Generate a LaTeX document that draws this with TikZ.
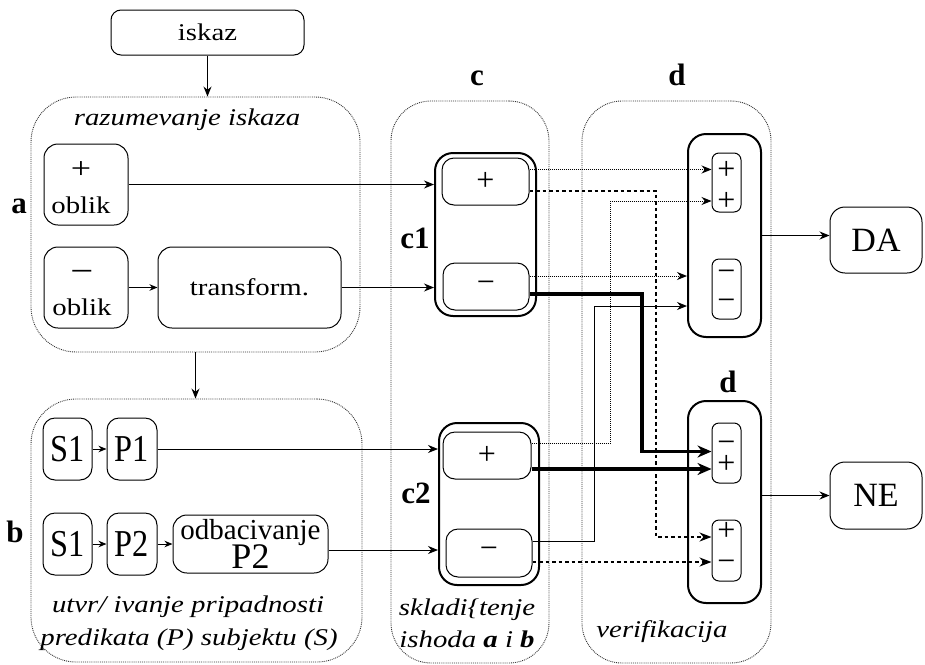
\documentclass[tikz,border=0pt]{standalone}
\usepackage{fontspec}
\setmainfont{Liberation Serif}
\newfontfamily\wf{Liberation Serif}[FakeStretch=1.2]
\newfontfamily\nf{Liberation Serif}[FakeStretch=0.85]
\usetikzlibrary{arrows.meta,calc}
\newcommand\myfs[1]{\fontsize{#1}{#1}\selectfont}
\begin{document}
\begin{tikzpicture}[x=1pt,y=-1pt,
  ob/.style={draw=black!80, line width=0.9pt, densely dotted, rounded corners=45pt, inner sep=0pt},
  bx/.style={draw=black, line width=1pt, rounded corners=14pt, inner sep=0pt},
  tk/.style={draw=black, line width=2pt, rounded corners=18pt, inner sep=0pt},
  sg/.style={font=\myfs{32}, inner sep=0pt, align=center},
  txt/.style={inner sep=0pt, anchor=base},
  ttl/.style={txt, font=\wf\itshape\myfs{24}},
  lbl/.style={font=\bfseries\myfs{31}, inner sep=0pt, anchor=base},
  arr/.style={-{Stealth[length=10pt,width=8pt]}, line width=1pt},
  sarr/.style={-{Stealth[length=8pt,width=6.5pt]}, line width=1pt},
  garr/.style={arr, densely dotted},
  tarr/.style={-{Stealth[length=14pt,width=12pt]}, line width=3.5pt},
  darr/.style={-{Stealth[length=12pt,width=9pt]}, line width=1.8pt, dash pattern=on 3.5pt off 3pt}
]
\useasboundingbox (0,0) rectangle (925,664);

% group boxes
\node[ob, minimum width=329pt, minimum height=255pt] (boxA) at (195.5,224.5) {};
\node[ob, minimum width=331pt, minimum height=263pt] (boxB) at (196.5,530.5) {};
\node[ob, rounded corners=40pt, minimum width=158pt, minimum height=562pt] (boxC) at (470,382) {};
\node[ob, rounded corners=40pt, minimum width=189pt, minimum height=562pt] (boxD) at (676.5,382) {};

% group titles
\node[ttl] (tA) at (187,125) {razumevanje iskaza};
\node[ttl] (tB1) at (188,612) {utvr/ ivanje pripadnosti};
\node[ttl] (tB2) at (189,645) {predikata (P) subjektu (S)};
\node[ttl] (tC1) at (467,615) {skladi\{tenje};
\node[ttl] (tC2) at (467,647) {ishoda \textbf{a} i \textbf{b}};
\node[ttl] (tD) at (662,637) {verifikacija};

% labels
\node[lbl] (la) at (19,213) {a};
\node[lbl] (lb) at (15,542) {b};
\node[lbl] (lc) at (477,85) {c};
\node[lbl] (ld) at (677,85) {d};
\node[lbl] (ld2) at (728,392) {d};
\node[lbl] (lc1) at (415,248) {c1};
\node[lbl] (lc2) at (416,503) {c2};

% top
\node[bx, rounded corners=10pt, minimum width=193pt, minimum height=45pt, font=\wf\myfs{24}] (iskaz) at (207.5,32.5) {iskaz};

% part a
\node[bx, minimum width=84pt, minimum height=81pt] (pob) at (86,184.5) {};
\node[inner sep=0pt, align=center, font=\wf\myfs{24}] (pobt) at (81,188) {{\myfs{30}+}\\[11pt]oblik};
\node[bx, minimum width=84pt, minimum height=81pt] (mob) at (86,287.5) {};
\node[inner sep=0pt, align=center, font=\wf\myfs{24}] (mobt) at (82,293) {{\myfs{34}−}\\[9.5pt]oblik};
\node[bx, minimum width=183pt, minimum height=81pt, font=\wf\myfs{24}] (trans) at (249.5,287.5) {transform.};

% part b
\node[bx, rounded corners=12pt, minimum width=49pt, minimum height=62pt, font=\nf\myfs{38}] (s1a) at (67.5,449) {S1};
\node[bx, rounded corners=12pt, minimum width=50pt, minimum height=62pt, font=\nf\myfs{38}] (p1) at (132,449) {P1};
\node[bx, rounded corners=12pt, minimum width=49pt, minimum height=62pt, font=\nf\myfs{38}] (s1b) at (67.5,544) {S1};
\node[bx, rounded corners=12pt, minimum width=50pt, minimum height=62pt, font=\nf\myfs{38}] (p2) at (132,544) {P2};
\node[bx, minimum width=155pt, minimum height=58pt, align=center, font=\myfs{29}] (odb) at (250.5,544) {odbacivanje\\[-2pt]{\myfs{36}P2}};

% part c
\node[tk, minimum width=101pt, minimum height=163pt] (c1) at (485.5,234.5) {};
\node[bx, rounded corners=12pt, minimum width=87pt, minimum height=47pt, font=\myfs{32}] (c1p) at (485.5,181.5) {+};
\node[bx, rounded corners=12pt, minimum width=86pt, minimum height=47pt, font=\myfs{32}] (c1m) at (486,286.5) {−};
\node[tk, minimum width=100pt, minimum height=162pt] (c2) at (489,504) {};
\node[bx, rounded corners=12pt, minimum width=88pt, minimum height=47pt, font=\myfs{32}] (c2p) at (487,455.5) {+};
\node[bx, rounded corners=12pt, minimum width=86pt, minimum height=48pt, font=\myfs{32}] (c2m) at (489,553) {−};

% part d
\node[tk, minimum width=73pt, minimum height=203pt] (d1) at (724.5,235.5) {};
\node[bx, rounded corners=7pt, minimum width=29pt, minimum height=59pt] (d1p) at (726.5,182.5) {};
\node[sg] (d1pt) at (726.5,185.5) {+\\[-1pt]+};
\node[bx, rounded corners=7pt, minimum width=29pt, minimum height=60pt] (d1m) at (726.5,289) {};
\node[sg] (d1mt) at (726.5,290.5) {−\\[-3pt]−};
\node[tk, minimum width=73pt, minimum height=202pt] (d2) at (724.5,502) {};
\node[bx, rounded corners=7pt, minimum width=29pt, minimum height=60pt] (d2a) at (726.5,453) {};
\node[sg] (d2at) at (726.5,457) {−\\[-11pt]+};
\node[bx, rounded corners=7pt, minimum width=29pt, minimum height=61pt] (d2b) at (726.5,550.5) {};
\node[sg] (d2bt) at (726.5,546.5) {+\\[-1pt]−};

% results
\node[bx, rounded corners=15pt, minimum width=92pt, minimum height=66pt, font=\myfs{34}] (DA) at (876,240) {DA};
\node[bx, rounded corners=15pt, minimum width=92pt, minimum height=67pt, font=\myfs{34}] (NE) at (876,495.5) {NE};

% connectors a/b
\draw[arr] (iskaz.south) -- (iskaz.south |- boxA.north);
\draw[arr] (boxA.south) -- (boxA.south |- boxB.north);
\draw[arr] (pob.east) -- (pob.east -| c1.west);
\draw[sarr] (mob.east) -- (trans.west);
\draw[arr] (trans.east) -- (trans.east -| c1.west);
\draw[sarr] (s1a.east) -- (p1.west);
\draw[sarr] (s1b.east) -- (p2.west);
\draw[sarr] (p2.east) -- (odb.west);
\draw[arr] (p1.east) -- (p1.east -| c2.west);
\coordinate (o1) at ($(odb.east)+(0,6)$);
\draw[arr] (o1) -- (o1 -| c2.west);

% lanes
\coordinate (L1) at (594,0);
\coordinate (L2) at (610,0);
\coordinate (L3) at (642,0);
\coordinate (L4) at (656,0);

% connectors c -> d
\coordinate (k1) at ($(c1p.east)+(0,-12)$);
\draw[garr] (k1) -- (k1 -| d1p.west);
\coordinate (k2) at ($(c1p.east)+(0,9.5)$);
\coordinate (e2) at ($(d2b.west)+(0,-13.5)$);
\draw[darr] (k2) -| (L4 |- e2) -- (e2);
\coordinate (k3) at ($(c2p.east)+(0,-12.5)$);
\coordinate (e3) at ($(d1p.west)+(0,18.5)$);
\draw[garr] (k3) -| (L2 |- e3) -- (e3);
\coordinate (k4) at ($(c1m.east)+(0,-10.5)$);
\draw[garr] (k4) -- (k4 -| d1.west);
\coordinate (k5) at ($(c1m.east)+(0,7.5)$);
\coordinate (e5) at ($(d2a.west)+(0,-1.5)$);
\draw[tarr] (k5) -| (L3 |- e5) -- (e5);
\coordinate (k6) at ($(c2p.east)+(0,13.5)$);
\draw[tarr] (k6) -- (k6 -| d2a.west);
\coordinate (k7) at ($(c2m.east)+(0,-12)$);
\coordinate (e7) at ($(d1.west)+(0,70.5)$);
\draw[arr] (k7) -| (L1 |- e7) -- (e7);
\coordinate (k8) at ($(c2m.east)+(0,9)$);
\draw[darr] (k8) -- (k8 -| d2b.west);

% outputs
\draw[arr] (d1.east) -- (d1.east -| DA.west);
\draw[arr] (NE.west -| d2.east) -- (NE.west);
\end{tikzpicture}
\end{document}
